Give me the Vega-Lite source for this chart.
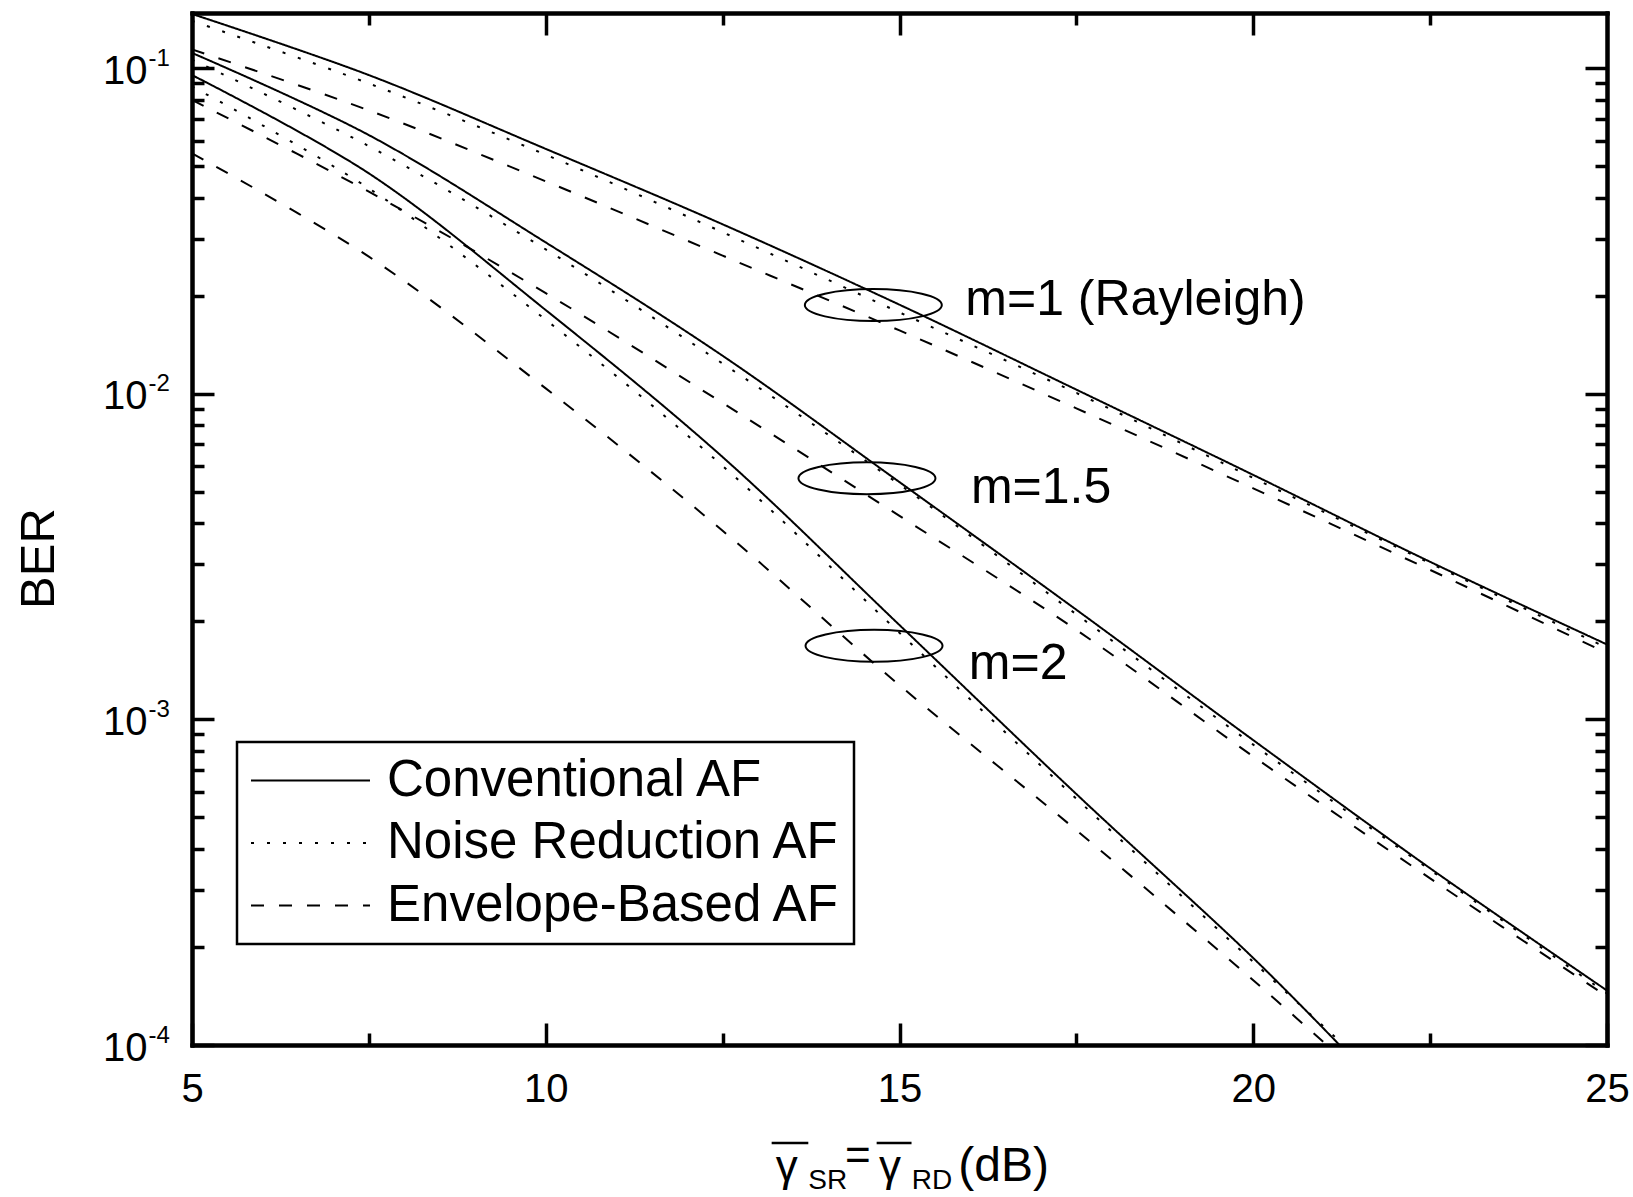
{
  "$schema": "https://vega.github.io/schema/vega-lite/v6.json",
  "width": 1415,
  "height": 1032,
  "autosize": {"type": "none"},
  "padding": {"left": 192, "top": 13, "right": 26, "bottom": 152},
  "background": "white",
  "config": {
    "view": {"stroke": null},
    "font": "Liberation Sans",
    "legend": {"strokeWidth": 2.5},
    "axis": {
      "grid": false,
      "domainColor": "black",
      "domainWidth": 4,
      "domainCap": "square",
      "tickColor": "black",
      "tickWidth": 3.5,
      "labelColor": "black",
      "titleColor": "black",
      "labelFlush": false,
      "labelOverlap": false,
      "labelBound": false,
      "labelFont": "Liberation Sans",
      "titleFont": "Liberation Sans"
    }
  },
  "datasets": {
    "curves": [
      {"m": "1", "method": "Conventional AF", "snr": 5, "ber": 0.147},
      {"m": "1", "method": "Conventional AF", "snr": 7.5, "ber": 0.0954},
      {"m": "1", "method": "Conventional AF", "snr": 10, "ber": 0.0566},
      {"m": "1", "method": "Conventional AF", "snr": 12.5, "ber": 0.0332},
      {"m": "1", "method": "Conventional AF", "snr": 15, "ber": 0.0188},
      {"m": "1", "method": "Conventional AF", "snr": 17.5, "ber": 0.01031},
      {"m": "1", "method": "Conventional AF", "snr": 20, "ber": 0.00564},
      {"m": "1", "method": "Conventional AF", "snr": 22.5, "ber": 0.00305},
      {"m": "1", "method": "Conventional AF", "snr": 25, "ber": 0.0017},
      {"m": "1", "method": "Noise Reduction AF", "snr": 5, "ber": 0.14},
      {"m": "1", "method": "Noise Reduction AF", "snr": 7.5, "ber": 0.0899},
      {"m": "1", "method": "Noise Reduction AF", "snr": 10, "ber": 0.0543},
      {"m": "1", "method": "Noise Reduction AF", "snr": 12.5, "ber": 0.0314},
      {"m": "1", "method": "Noise Reduction AF", "snr": 15, "ber": 0.0178},
      {"m": "1", "method": "Noise Reduction AF", "snr": 17.5, "ber": 0.01007},
      {"m": "1", "method": "Noise Reduction AF", "snr": 20, "ber": 0.00552},
      {"m": "1", "method": "Noise Reduction AF", "snr": 22.5, "ber": 0.00302},
      {"m": "1", "method": "Noise Reduction AF", "snr": 25, "ber": 0.00166},
      {"m": "1", "method": "Envelope-Based AF", "snr": 5, "ber": 0.1144},
      {"m": "1", "method": "Envelope-Based AF", "snr": 7.5, "ber": 0.0743},
      {"m": "1", "method": "Envelope-Based AF", "snr": 10, "ber": 0.045},
      {"m": "1", "method": "Envelope-Based AF", "snr": 12.5, "ber": 0.0266},
      {"m": "1", "method": "Envelope-Based AF", "snr": 15, "ber": 0.01567},
      {"m": "1", "method": "Envelope-Based AF", "snr": 17.5, "ber": 0.00903},
      {"m": "1", "method": "Envelope-Based AF", "snr": 20, "ber": 0.00513},
      {"m": "1", "method": "Envelope-Based AF", "snr": 22.5, "ber": 0.00288},
      {"m": "1", "method": "Envelope-Based AF", "snr": 25, "ber": 0.0016},
      {"m": "1.5", "method": "Conventional AF", "snr": 5, "ber": 0.1116},
      {"m": "1.5", "method": "Conventional AF", "snr": 7.5, "ber": 0.0624},
      {"m": "1.5", "method": "Conventional AF", "snr": 10, "ber": 0.0292},
      {"m": "1.5", "method": "Conventional AF", "snr": 12.5, "ber": 0.0131},
      {"m": "1.5", "method": "Conventional AF", "snr": 15, "ber": 0.00536},
      {"m": "1.5", "method": "Conventional AF", "snr": 17.5, "ber": 0.002173},
      {"m": "1.5", "method": "Conventional AF", "snr": 20, "ber": 0.000864},
      {"m": "1.5", "method": "Conventional AF", "snr": 22.5, "ber": 0.000349},
      {"m": "1.5", "method": "Conventional AF", "snr": 25, "ber": 0.000147},
      {"m": "1.5", "method": "Noise Reduction AF", "snr": 5, "ber": 0.1063},
      {"m": "1.5", "method": "Noise Reduction AF", "snr": 7.5, "ber": 0.0577},
      {"m": "1.5", "method": "Noise Reduction AF", "snr": 10, "ber": 0.0278},
      {"m": "1.5", "method": "Noise Reduction AF", "snr": 12.5, "ber": 0.0124},
      {"m": "1.5", "method": "Noise Reduction AF", "snr": 15, "ber": 0.00527},
      {"m": "1.5", "method": "Noise Reduction AF", "snr": 17.5, "ber": 0.002104},
      {"m": "1.5", "method": "Noise Reduction AF", "snr": 20, "ber": 0.000837},
      {"m": "1.5", "method": "Noise Reduction AF", "snr": 22.5, "ber": 0.000345},
      {"m": "1.5", "method": "Noise Reduction AF", "snr": 25, "ber": 0.000144},
      {"m": "1.5", "method": "Envelope-Based AF", "snr": 5, "ber": 0.08},
      {"m": "1.5", "method": "Envelope-Based AF", "snr": 7.5, "ber": 0.0418},
      {"m": "1.5", "method": "Envelope-Based AF", "snr": 10, "ber": 0.0204},
      {"m": "1.5", "method": "Envelope-Based AF", "snr": 12.5, "ber": 0.00938},
      {"m": "1.5", "method": "Envelope-Based AF", "snr": 15, "ber": 0.00422},
      {"m": "1.5", "method": "Envelope-Based AF", "snr": 17.5, "ber": 0.001884},
      {"m": "1.5", "method": "Envelope-Based AF", "snr": 20, "ber": 0.00077},
      {"m": "1.5", "method": "Envelope-Based AF", "snr": 22.5, "ber": 0.000325},
      {"m": "1.5", "method": "Envelope-Based AF", "snr": 25, "ber": 0.000141},
      {"m": "2", "method": "Conventional AF", "snr": 5, "ber": 0.0954},
      {"m": "2", "method": "Conventional AF", "snr": 7.5, "ber": 0.0476},
      {"m": "2", "method": "Conventional AF", "snr": 10, "ber": 0.0181},
      {"m": "2", "method": "Conventional AF", "snr": 12.5, "ber": 0.0064},
      {"m": "2", "method": "Conventional AF", "snr": 15, "ber": 0.00195},
      {"m": "2", "method": "Conventional AF", "snr": 17.5, "ber": 0.00059},
      {"m": "2", "method": "Conventional AF", "snr": 20, "ber": 0.000185},
      {"m": "2", "method": "Conventional AF", "snr": 21.22, "ber": 0.0001},
      {"m": "2", "method": "Noise Reduction AF", "snr": 5, "ber": 0.088},
      {"m": "2", "method": "Noise Reduction AF", "snr": 7.5, "ber": 0.0428},
      {"m": "2", "method": "Noise Reduction AF", "snr": 10, "ber": 0.0169},
      {"m": "2", "method": "Noise Reduction AF", "snr": 12.5, "ber": 0.00601},
      {"m": "2", "method": "Noise Reduction AF", "snr": 15, "ber": 0.001845},
      {"m": "2", "method": "Noise Reduction AF", "snr": 17.5, "ber": 0.000571},
      {"m": "2", "method": "Noise Reduction AF", "snr": 20, "ber": 0.00018},
      {"m": "2", "method": "Noise Reduction AF", "snr": 21.28, "ber": 0.0001},
      {"m": "2", "method": "Envelope-Based AF", "snr": 5, "ber": 0.0548},
      {"m": "2", "method": "Envelope-Based AF", "snr": 7.5, "ber": 0.0264},
      {"m": "2", "method": "Envelope-Based AF", "snr": 10, "ber": 0.0104},
      {"m": "2", "method": "Envelope-Based AF", "snr": 12.5, "ber": 0.0038},
      {"m": "2", "method": "Envelope-Based AF", "snr": 15, "ber": 0.001274},
      {"m": "2", "method": "Envelope-Based AF", "snr": 17.5, "ber": 0.000457},
      {"m": "2", "method": "Envelope-Based AF", "snr": 20, "ber": 0.000158},
      {"m": "2", "method": "Envelope-Based AF", "snr": 21.04, "ber": 0.0001}
    ],
    "labels": [
      {"t": "m=1 (Rayleigh)", "snr": 15.93, "ber": 0.01747},
      {"t": "m=1.5", "snr": 16.01, "ber": 0.004624},
      {"t": "m=2", "snr": 15.98, "ber": 0.001332}
    ],
    "ellipses": [
      {"m": "1", "snr": 14.63, "ber": 0.01875},
      {"m": "1.5", "snr": 14.54, "ber": 0.005508},
      {"m": "2", "snr": 14.64, "ber": 0.001684}
    ],
    "titleGamma": [
      {"t": "γ", "snr": 13.25, "ber": 0.00003826},
      {"t": "=", "snr": 14.23, "ber": 0.00004135},
      {"t": "γ", "snr": 14.71, "ber": 0.00003826}
    ],
    "titleMain": [
      {"t": "(dB)", "snr": 15.831, "ber": 0.00003826}
    ],
    "titleSub": [
      {"t": "SR", "snr": 13.711, "ber": 0.00003614},
      {"t": "RD", "snr": 15.172, "ber": 0.00003614}
    ],
    "titleBars": [
      {"snr": 13.193, "snr2": 13.711, "ber": 0.00005004},
      {"snr": 14.677, "snr2": 15.17, "ber": 0.00005004}
    ]
  },
  "resolve": {"axis": {"x": "independent", "y": "independent"}},
  "layer": [
    {
      "data": {"name": "curves"},
      "mark": {"type": "line", "color": "black", "strokeWidth": 2, "interpolate": "catmull-rom"},
      "encoding": {
        "x": {"field": "snr", "type": "quantitative",
              "scale": {"domain": [5, 25], "nice": false, "zero": false},
              "axis": {"orient": "bottom", "values": [5, 10, 15, 20, 25], "tickSize": -22, "labelFontSize": 40, "labelPadding": 46, "format": "d", "title": null}},
        "y": {"field": "ber", "type": "quantitative",
              "scale": {"type": "log", "domain": [0.0001, 0.148], "nice": false},
              "axis": {"orient": "left", "values": [0.0001, 0.001, 0.01, 0.1], "tickSize": -22, "labelExpr": "'10'", "labelFontSize": 40, "labelPadding": 67, "labelAlign": "right", "labelBaseline": "middle", "labelOffset": 3,
                       "title": "BER", "titleFontSize": 49, "titleFontWeight": "normal", "titleAngle": 270, "titleX": -139, "titleY": 545, "titleAlign": "center", "titleBaseline": "alphabetic"}},
        "detail": {"field": "m", "type": "nominal"},
        "strokeDash": {"field": "method", "type": "nominal",
              "scale": {"domain": ["Conventional AF", "Noise Reduction AF", "Envelope-Based AF"], "range": [[1, 0], [3, 13], [13, 15]]},
              "legend": {"orient": "none", "legendX": 45, "legendY": 729, "title": null, "symbolType": "stroke", "symbolSize": 14161, "symbolStrokeWidth": 2, "symbolStrokeColor": "black",
                         "labelFontSize": 51, "labelFont": "Liberation Sans", "labelColor": "black", "labelOffset": 16, "labelLimit": 700, "rowPadding": 10.5, "clipHeight": 51, "padding": 13,
                         "strokeColor": "black", "fillColor": "white"}}
      }
    },
    {
      "data": {"name": "labels"},
      "mark": {"type": "text", "align": "left", "baseline": "alphabetic", "fontSize": 50, "font": "Liberation Sans", "color": "black"},
      "encoding": {
        "x": {"field": "snr", "type": "quantitative", "scale": {"domain": [5, 25], "nice": false, "zero": false},
              "axis": {"orient": "bottom", "values": [7.5, 12.5, 17.5, 22.5], "tickSize": -12, "labels": false, "title": null}},
        "y": {"field": "ber", "type": "quantitative", "scale": {"type": "log", "domain": [0.0001, 0.148], "nice": false},
              "axis": {"orient": "left", "values": [0.0001, 0.001, 0.01, 0.1], "ticks": false, "domain": false, "labelFontSize": 24, "labelAlign": "left", "labelBaseline": "alphabetic", "labelPadding": 44, "labelOffset": -3,
                       "labelExpr": "datum.value < 0.0005 ? '-4' : datum.value < 0.005 ? '-3' : datum.value < 0.05 ? '-2' : '-1'", "title": null}},
        "text": {"field": "t", "type": "nominal"}
      }
    },
    {
      "data": {"name": "ellipses"},
      "mark": {"type": "point", "shape": "M-1,0C-1,-0.129 -0.5523,-0.2336 0,-0.2336C0.5523,-0.2336 1,-0.129 1,0C1,0.129 0.5523,0.2336 0,0.2336C-0.5523,0.2336 -1,0.129 -1,0Z", "size": 18769, "filled": false, "color": "black", "strokeWidth": 2, "opacity": 1},
      "encoding": {
        "x": {"field": "snr", "type": "quantitative", "scale": {"domain": [5, 25], "nice": false, "zero": false},
              "axis": {"orient": "top", "values": [10, 15, 20], "tickSize": -22, "labels": false, "title": null}},
        "y": {"field": "ber", "type": "quantitative", "scale": {"type": "log", "domain": [0.0001, 0.148], "nice": false},
              "axis": {"orient": "left", "values": [0.0002, 0.0003, 0.0004, 0.0005, 0.0006, 0.0007, 0.0008, 0.0009, 0.002, 0.003, 0.004, 0.005, 0.006, 0.007, 0.008, 0.009, 0.02, 0.03, 0.04, 0.05, 0.06, 0.07, 0.08, 0.09], "tickSize": -12, "labels": false, "title": null}}
      }
    },
    {
      "data": {"name": "titleGamma"},
      "mark": {"type": "text", "align": "left", "baseline": "alphabetic", "fontSize": 44, "font": "Liberation Sans", "color": "black"},
      "encoding": {
        "x": {"field": "snr", "type": "quantitative", "scale": {"domain": [5, 25], "nice": false, "zero": false},
              "axis": {"orient": "top", "values": [7.5, 12.5, 17.5, 22.5], "tickSize": -12, "labels": false, "title": null}},
        "y": {"field": "ber", "type": "quantitative", "scale": {"type": "log", "domain": [0.0001, 0.148], "nice": false},
              "axis": {"orient": "right", "values": [0.0001, 0.001, 0.01, 0.1], "tickSize": -22, "labels": false, "title": null}},
        "text": {"field": "t", "type": "nominal"}
      }
    },
    {
      "data": {"name": "titleMain"},
      "mark": {"type": "text", "align": "left", "baseline": "alphabetic", "fontSize": 48, "font": "Liberation Sans", "color": "black"},
      "encoding": {
        "x": {"field": "snr", "type": "quantitative", "scale": {"domain": [5, 25], "nice": false, "zero": false}, "axis": null},
        "y": {"field": "ber", "type": "quantitative", "scale": {"type": "log", "domain": [0.0001, 0.148], "nice": false},
              "axis": {"orient": "right", "values": [0.0002, 0.0003, 0.0004, 0.0005, 0.0006, 0.0007, 0.0008, 0.0009, 0.002, 0.003, 0.004, 0.005, 0.006, 0.007, 0.008, 0.009, 0.02, 0.03, 0.04, 0.05, 0.06, 0.07, 0.08, 0.09], "tickSize": -12, "labels": false, "title": null}},
        "text": {"field": "t", "type": "nominal"}
      }
    },
    {
      "data": {"name": "titleSub"},
      "mark": {"type": "text", "align": "left", "baseline": "alphabetic", "fontSize": 28, "font": "Liberation Sans", "color": "black"},
      "encoding": {
        "x": {"field": "snr", "type": "quantitative", "scale": {"domain": [5, 25], "nice": false, "zero": false}, "axis": null},
        "y": {"field": "ber", "type": "quantitative", "scale": {"type": "log", "domain": [0.0001, 0.148], "nice": false}, "axis": null},
        "text": {"field": "t", "type": "nominal"}
      }
    },
    {
      "data": {"name": "titleBars"},
      "mark": {"type": "rule", "color": "black", "strokeWidth": 2.5},
      "encoding": {
        "x": {"field": "snr", "type": "quantitative", "scale": {"domain": [5, 25], "nice": false, "zero": false}, "axis": null},
        "x2": {"field": "snr2"},
        "y": {"field": "ber", "type": "quantitative", "scale": {"type": "log", "domain": [0.0001, 0.148], "nice": false}, "axis": null}
      }
    }
  ]
}
